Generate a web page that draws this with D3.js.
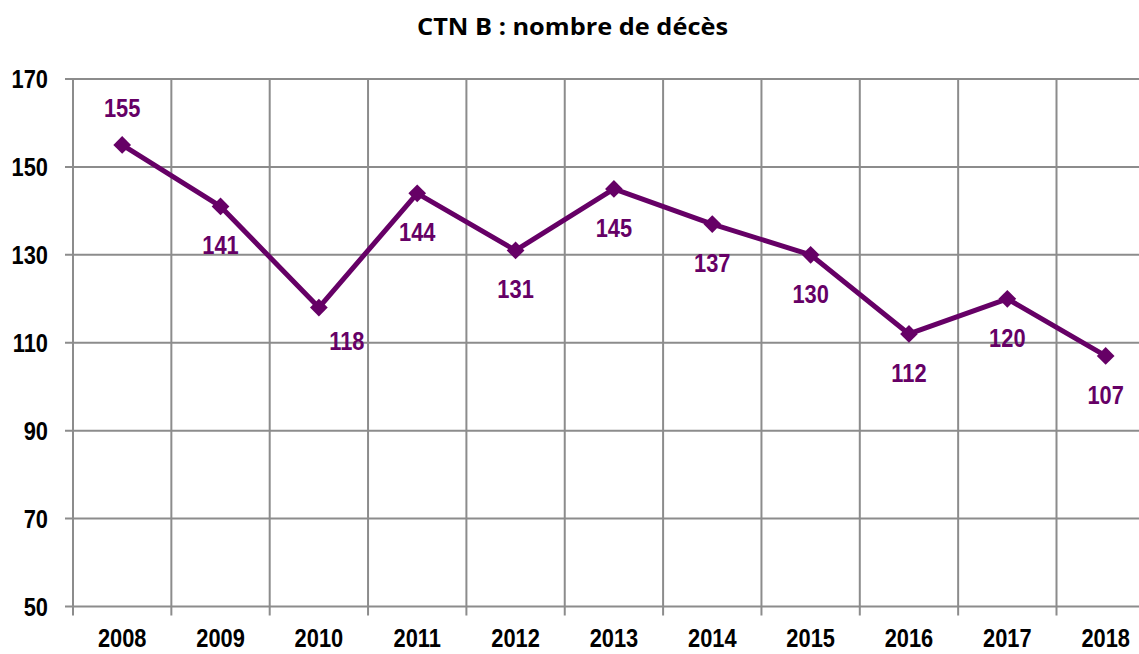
<!DOCTYPE html>
<html>
<head>
<meta charset="utf-8">
<script src="https://cdn.jsdelivr.net/npm/d3@7"></script>
<style>
  body { margin: 0; background: #fff; }
  .lbl { font-family: "Liberation Sans", Arial, sans-serif; font-weight: bold; }
</style>
</head>
<body>
<script>
var w = 1139;
var h = 654;

// data
var years = ["2008", "2009", "2010", "2011", "2012", "2013", "2014", "2015", "2016", "2017", "2018"];
var deces = [155, 141, 118, 144, 131, 145, 137, 130, 112, 120, 107];
var yTicks = [50, 70, 90, 110, 130, 150, 170];

var purple = "#660066";
var grid = "#8c8c8c";

var plotLeft = 73, plotTop = 79, plotBottom = 606.5;
var step = 98.35;
var narrow = 0.84; // squeeze digits like Arial Narrow

var x = d3.scaleBand().domain(years).range([plotLeft, plotLeft + step * years.length]);
var y = d3.scaleLinear().domain([50, 170]).range([plotBottom, plotTop]);

function cx(d) { return x(d) + x.bandwidth() / 2; }
function place(px, py) { return "translate(" + px + "," + py + ") scale(" + narrow + ",1)"; }

var svg = d3.select("body").append("svg").attr("width", w).attr("height", h);

// title
svg.append("text")
  .attr("x", 572.5).attr("y", 35)
  .attr("text-anchor", "middle")
  .attr("textLength", 311)
  .attr("lengthAdjust", "spacingAndGlyphs")
  .style("font-family", "'Open Sans', 'Noto Sans', sans-serif")
  .style("font-weight", "bold")
  .style("font-size", "23px")
  .text("CTN B : nombre de décès");

// horizontal gridlines
svg.selectAll("line.hgrid")
  .data(yTicks)
  .enter()
  .append("line")
  .attr("class", "hgrid")
  .attr("x1", plotLeft - 8).attr("x2", w)
  .attr("y1", function (d) { return y(d); })
  .attr("y2", function (d) { return y(d); })
  .style("stroke", grid).style("stroke-width", 2);

// vertical gridlines at category boundaries
svg.selectAll("line.vgrid")
  .data(years)
  .enter()
  .append("line")
  .attr("class", "vgrid")
  .attr("x1", function (d) { return x(d); })
  .attr("x2", function (d) { return x(d); })
  .attr("y1", plotTop).attr("y2", plotBottom + 9)
  .style("stroke", grid).style("stroke-width", 2);

// y tick labels
svg.selectAll("text.ytick")
  .data(yTicks)
  .enter()
  .append("text")
  .attr("class", "ytick lbl")
  .attr("transform", function (d) { return place(48, y(d) + 9); })
  .attr("text-anchor", "end")
  .style("font-size", "26px")
  .text(function (d) { return d; });

// x tick labels
svg.selectAll("text.xtick")
  .data(years)
  .enter()
  .append("text")
  .attr("class", "xtick lbl")
  .attr("transform", function (d) { return place(cx(d), 647); })
  .attr("text-anchor", "middle")
  .style("font-size", "26px")
  .text(function (d) { return d; });

var pts = years.map(function (d, i) { return { year: d, value: deces[i] }; });

var line = d3.line()
  .x(function (d) { return cx(d.year); })
  .y(function (d) { return y(d.value); });

svg.append("path")
  .datum(pts)
  .attr("d", line)
  .style("fill", "none")
  .style("stroke", purple)
  .style("stroke-width", 5)
  .style("stroke-linejoin", "round");

// diamond markers
svg.selectAll("path.mark")
  .data(pts)
  .enter()
  .append("path")
  .attr("class", "mark")
  .attr("d", d3.symbol().type(d3.symbolDiamond2).size(200))
  .attr("transform", function (d) {
    return "translate(" + cx(d.year) + "," + y(d.value) + ")";
  })
  .style("fill", purple);

// data labels
svg.selectAll("text.val")
  .data(pts)
  .enter()
  .append("text")
  .attr("class", "val lbl")
  .attr("transform", function (d, i) {
    var dx = i == 2 ? 28 : 0;
    var dy = i == 0 ? -28 : (i == 2 ? 42 : 48);
    return place(cx(d.year) + dx, y(d.value) + dy);
  })
  .attr("text-anchor", "middle")
  .style("font-size", "26px")
  .style("fill", purple)
  .text(function (d) { return d.value; });
</script>
</body>
</html>
